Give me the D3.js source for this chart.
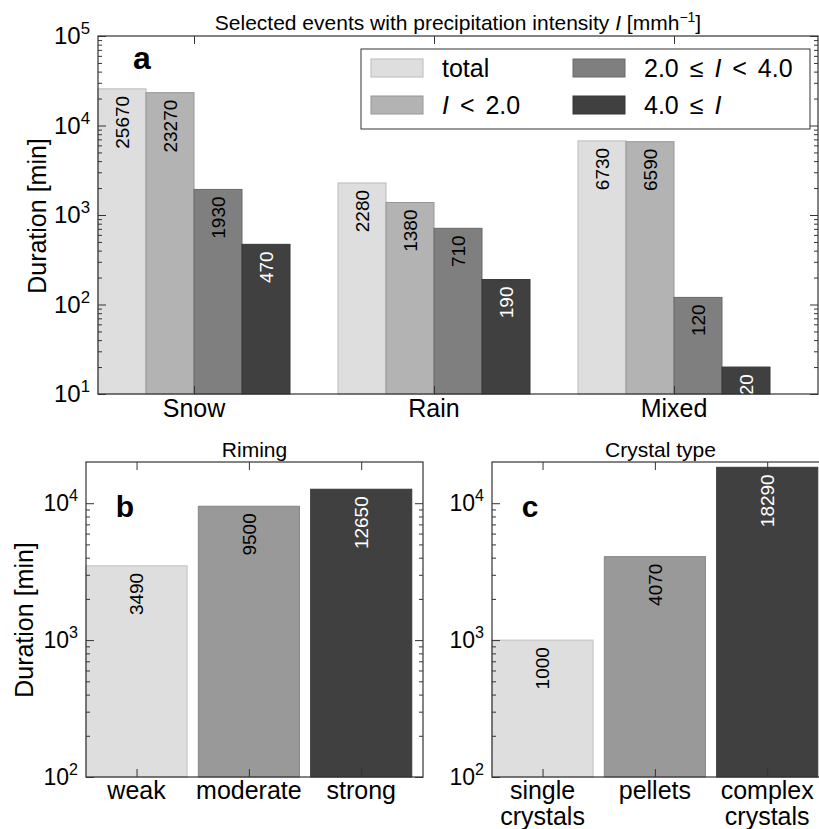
<!DOCTYPE html>
<html>
<head>
<meta charset="utf-8">
<script src="https://cdn.jsdelivr.net/npm/d3@7"></script>
<style>
  body { margin: 0; background: #fff; }
  svg text { font-family: "Liberation Sans", Arial, sans-serif; }
</style>
</head>
<body>
<div id="chart"></div>
<script>
// ---- data ----
const groups = ["Snow", "Rain", "Mixed"];
const intensityLabels = ["total", "$I$ < 2.0", "2.0 ≤ $I$ < 4.0", "4.0 ≤ $I$"];
const snowValues = [25670, 23270, 1930, 470];
const rainValues = [2280, 1380, 710, 190];
const mixedValues = [6730, 6590, 120, 20];
const rimingCats = ["weak", "moderate", "strong"];
const rimingValues = [3490, 9500, 12650];
const crystalCats = ["single\ncrystals", "pellets", "complex\ncrystals"];
const crystalValues = [1000, 4070, 18290];
const ticksA = [1e1, 1e2, 1e3, 1e4, 1e5];
const ticksBC = [1e2, 1e3, 1e4];

// ---- style ----
const intensityColors = ["#dedede", "#b3b3b3", "#7f7f7f", "#404040"];
const threeColors = ["#dedede", "#999999", "#404040"];
const axisColor = "#333";

const svg = d3.select("#chart").append("svg")
  .attr("width", 819)
  .attr("height", 829);
svg.append("rect").attr("width", 819).attr("height", 829).attr("fill", "#fff");

// minor ticks for a log scale
function minorTicks(domain) {
  const out = [];
  for (let e = Math.floor(Math.log10(domain[0])); e < Math.ceil(Math.log10(domain[1])); e++) {
    for (let m = 2; m <= 9; m++) {
      const v = m * Math.pow(10, e);
      if (v > domain[0] && v < domain[1]) out.push(v);
    }
  }
  return out;
}

// frame, inward ticks and power-of-ten labels
function drawFrame(g, x, y, majors, centers, tickFont) {
  const [x0, x1] = x.range();
  const [y0, y1] = y.range();

  const left = g.append("g").attr("transform", `translate(${x0},0)`);
  left.call(d3.axisLeft(y).tickValues(majors).tickSize(-8).tickFormat(""));
  left.append("g").call(d3.axisLeft(y).tickValues(minorTicks(y.domain())).tickSize(-4).tickFormat(""));
  const right = g.append("g").attr("transform", `translate(${x1},0)`);
  right.call(d3.axisRight(y).tickValues(majors).tickSize(-8).tickFormat(""));
  right.append("g").call(d3.axisRight(y).tickValues(minorTicks(y.domain())).tickSize(-4).tickFormat(""));

  g.append("g").attr("transform", `translate(0,${y0})`)
    .call(d3.axisBottom(x).tickValues(centers).tickSize(-8).tickFormat(""));
  g.append("g").attr("transform", `translate(0,${y1})`)
    .call(d3.axisTop(x).tickValues(centers).tickSize(-8).tickFormat(""));

  g.selectAll(".domain").remove();
  g.selectAll(".tick line").attr("stroke", axisColor);
  g.selectAll(".tick text").remove();

  g.append("rect")
    .attr("x", x0).attr("y", y1)
    .attr("width", x1 - x0).attr("height", y0 - y1)
    .attr("fill", "none").attr("stroke", axisColor).attr("stroke-width", 1.2);

  majors.forEach(v => {
    const t = g.append("text")
      .attr("x", x0 - 8)
      .attr("y", y(v) + 8)
      .attr("text-anchor", "end")
      .attr("font-size", tickFont);
    t.append("tspan").text("10");
    t.append("tspan").attr("dy", -10).attr("font-size", tickFont * 0.7)
      .text(Math.round(Math.log10(v)));
  });
}

function valueLabel(g, x, y, v, dark) {
  g.append("text")
    .attr("transform", `translate(${x},${y(v) + 7}) rotate(-90)`)
    .attr("text-anchor", "end")
    .attr("dy", "0.36em")
    .attr("font-size", 19)
    .attr("fill", dark ? "#fff" : "#000")
    .text(v);
}

// ---------------- panel a ----------------
const xA = d3.scaleLinear().domain([0, 15]).range([98, 818]);
const yA = d3.scaleLog().domain([10, 1e5]).range([394, 36]);
const gA = svg.append("g");
const groupValues = [snowValues, rainValues, mixedValues];

groupValues.forEach((vals, gi) => {
  vals.forEach((v, k) => {
    const pos = gi * 5 + k;
    gA.append("rect")
      .attr("x", xA(pos))
      .attr("y", yA(v))
      .attr("width", xA(pos + 1) - xA(pos))
      .attr("height", yA(10) - yA(v))
      .attr("fill", intensityColors[k])
      .attr("stroke", d3.color(intensityColors[k]).darker(0.5))
      .attr("stroke-width", 1);
    valueLabel(gA, xA(pos + 0.5), yA, v, k === 3);
  });
});

const centersA = groups.map((d, i) => i * 5 + 2);
drawFrame(gA, xA, yA, ticksA, centersA, 24);

groups.forEach((name, i) => {
  gA.append("text")
    .attr("x", xA(centersA[i]))
    .attr("y", 417)
    .attr("text-anchor", "middle")
    .attr("font-size", 25)
    .text(name);
});

gA.append("text")
  .attr("transform", "translate(46,216) rotate(-90)")
  .attr("text-anchor", "middle")
  .attr("font-size", 25)
  .text("Duration [min]");

const title = gA.append("text")
  .attr("x", 458).attr("y", 30)
  .attr("text-anchor", "middle")
  .attr("font-size", 21);
title.append("tspan").text("Selected events with precipitation intensity ");
title.append("tspan").attr("font-style", "italic").text("I");
title.append("tspan").text(" [mmh");
title.append("tspan").attr("dy", -8).attr("font-size", 14).text("−1");
title.append("tspan").attr("dy", 8).text("]");

gA.append("text")
  .attr("x", 142).attr("y", 69)
  .attr("text-anchor", "middle")
  .attr("font-size", 32).attr("font-weight", "bold")
  .text("a");

// legend
const legend = gA.append("g");
legend.append("rect")
  .attr("x", 361).attr("y", 49).attr("width", 449).attr("height", 80)
  .attr("fill", "#fff").attr("stroke", axisColor).attr("stroke-width", 1);
intensityLabels.forEach((lab, i) => {
  const col = Math.floor(i / 2), row = i % 2;
  const lx = 371 + col * 202, ly = 59 + row * 37;
  legend.append("rect")
    .attr("x", lx).attr("y", ly).attr("width", 52).attr("height", 18)
    .attr("fill", intensityColors[i])
    .attr("stroke", d3.color(intensityColors[i]).darker(0.5));
  const t = legend.append("text")
    .attr("x", lx + 71).attr("y", ly + 18)
    .attr("font-size", 25)
    .attr("word-spacing", 4);
  lab.split("$").forEach((part, j) => {
    if (part) t.append("tspan").attr("font-style", j % 2 ? "italic" : "normal").text(part);
  });
});

// ---------------- panels b and c ----------------
function smallPanel(x0, x1, cats, vals, colors, sub, letter, letterX) {
  const x = d3.scaleLinear().domain([-0.45, 2.55]).range([x0, x1]);
  const y = d3.scaleLog().domain([100, 20000]).range([777, 462]);
  const g = svg.append("g");
  vals.forEach((v, i) => {
    g.append("rect")
      .attr("x", x(i - 0.45))
      .attr("y", y(v))
      .attr("width", x(i + 0.45) - x(i - 0.45))
      .attr("height", y(100) - y(v))
      .attr("fill", colors[i])
      .attr("stroke", d3.color(colors[i]).darker(0.4))
      .attr("stroke-width", 1);
    valueLabel(g, x(i), y, v, i === 2);
  });
  drawFrame(g, x, y, ticksBC, d3.range(cats.length), 23);
  cats.forEach((c, i) => {
    c.split("\n").forEach((line, j) => {
      g.append("text")
        .attr("x", x(i)).attr("y", 799 + j * 26)
        .attr("text-anchor", "middle")
        .attr("font-size", 25)
        .text(line);
    });
  });
  g.append("text")
    .attr("x", (x0 + x1) / 2).attr("y", 457)
    .attr("text-anchor", "middle")
    .attr("font-size", 21)
    .text(sub);
  g.append("text")
    .attr("x", letterX).attr("y", 517)
    .attr("text-anchor", "middle")
    .attr("font-size", 30).attr("font-weight", "bold")
    .text(letter);
  return g;
}

const gB = smallPanel(86, 423, rimingCats, rimingValues, threeColors, "Riming", "b", 125);
gB.append("text")
  .attr("transform", "translate(33,620) rotate(-90)")
  .attr("text-anchor", "middle")
  .attr("font-size", 25)
  .text("Duration [min]");

smallPanel(492, 829, crystalCats, crystalValues, threeColors, "Crystal type", "c", 530);
</script>
</body>
</html>
